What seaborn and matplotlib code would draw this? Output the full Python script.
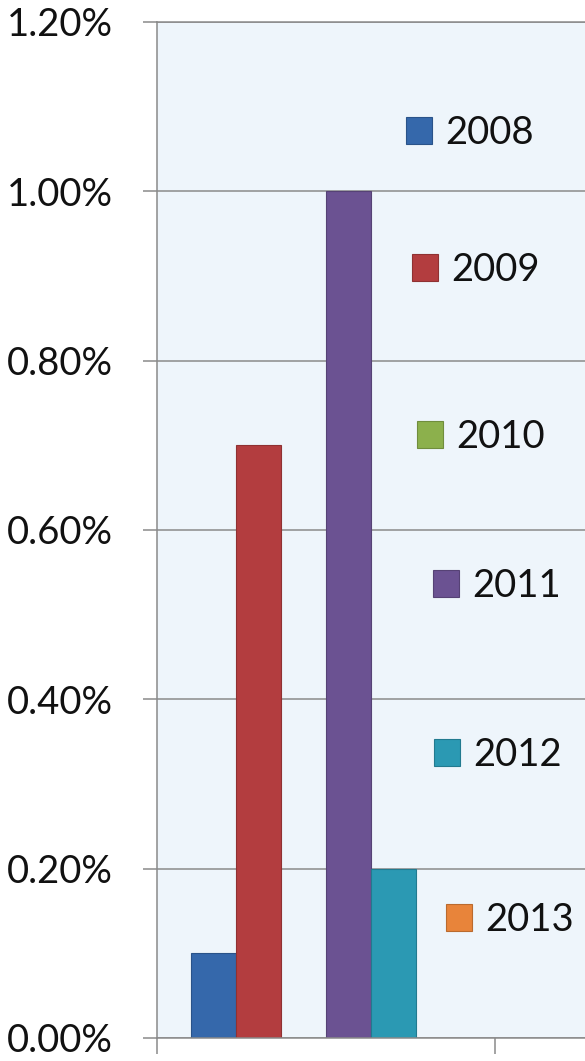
import pandas as pd
import matplotlib.pyplot as plt
import seaborn as sns
from matplotlib.patches import Patch
from matplotlib.legend import Legend
from matplotlib.ticker import PercentFormatter
import matplotlib.colors as mcolors

# Данные
years = ['2008', '2009', '2010', '2011', '2012', '2013']
values = [0.10, 0.70, 0.00, 1.00, 0.20, 0.00]   # в процентах
colors = ['#3568AB', '#B33D3F', '#8CB04C', '#6B5292', '#2B99B3', '#E8843A']

# положение элементов легенды (пиксели: левый край квадрата, центр по y)
legend_pos = [(406, 133), (412, 270), (417, 437), (433, 586), (434, 755), (446, 920)]

df = pd.DataFrame({'group': [''] * len(years), 'year': years, 'value': values})

sns.set_theme(style='white')
plt.rcParams['font.family'] = ['Lato', 'DejaVu Sans']

W, H = 585, 1061
fig = plt.figure(figsize=(W / 100, H / 100), dpi=100)
ax = fig.add_axes([157 / W, (H - 1038) / H, (W - 157) / W, (1038 - 22) / H])
ax.set_facecolor('#EEF5FB')

sns.barplot(data=df, x='group', y='value', hue='year', palette=colors,
            width=0.8, saturation=1, legend=False, ax=ax)

for p in ax.patches:
    fc = mcolors.to_rgb(p.get_facecolor())
    p.set_edgecolor(tuple(c * 0.8 for c in fc))
    p.set_linewidth(0.8)

grey = '#8A8A8A'
fs = 27.5
ax.set_ylim(0, 1.2)
ax.set_yticks([0, 0.2, 0.4, 0.6, 0.8, 1.0, 1.2])
ax.yaxis.set_major_formatter(PercentFormatter(xmax=100, decimals=2))
ax.set_xlim(-0.5, 0.5 + (W - 495) / 338)
ax.set_xticks([-0.5, 0.5])
ax.set_xticklabels(['', ''])
ax.set_xlabel('')
ax.set_ylabel('')

ax.yaxis.grid(True, color=grey, linewidth=1.1)
ax.xaxis.grid(False)
ax.set_axisbelow(True)

for side in ['left', 'bottom', 'top']:
    ax.spines[side].set_color(grey)
    ax.spines[side].set_linewidth(1.1)
ax.spines['right'].set_visible(False)

ax.tick_params(axis='y', direction='out', length=10, width=1.1, color=grey,
               pad=22, labelsize=fs, labelcolor='#111111', left=True)
ax.tick_params(axis='x', direction='out', length=11.5, width=1.1, color=grey,
               bottom=True)

# Легенда: каждый элемент отдельно
for year, col, (px, py) in zip(years, colors, legend_pos):
    handle = Patch(facecolor=col, edgecolor=tuple(c * 0.8 for c in mcolors.to_rgb(col)),
                   linewidth=0.8)
    leg = Legend(ax, [handle], [year], loc='center left',
                 bbox_to_anchor=(px / W, 1 - py / H), bbox_transform=fig.transFigure,
                 frameon=False, fontsize=fs, handlelength=0.68, handleheight=0.68,
                 handletextpad=0.36, borderpad=0, borderaxespad=0)
    for t in leg.get_texts():
        t.set_color('#111111')
    ax.add_artist(leg)

fig.savefig('out.png', dpi=100)
